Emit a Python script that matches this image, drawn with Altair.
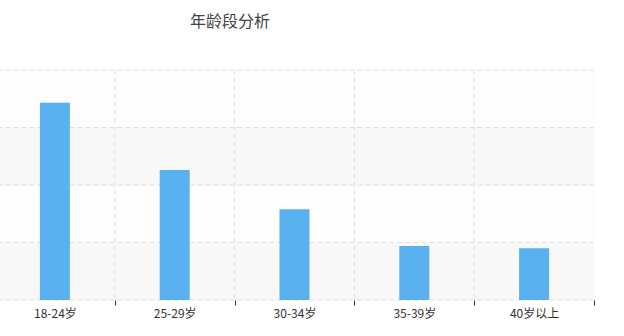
import altair as alt
import pandas as pd

# Age groups and their share (%)
categories = ["18-24岁", "25-29岁", "30-34岁", "35-39岁", "40岁以上"]
shares = [34.3, 22.6, 15.8, 9.4, 9.0]
y_ticks = [0, 10, 20, 30, 40]
band_fills = ["#f8f8f8", "#fdfdfd", "#f8f8f8", "#fdfdfd"]

FONT = "Noto Sans CJK SC"
W, H = 594, 230

bars_df = pd.DataFrame({"age": categories, "share": shares})
bands_df = pd.DataFrame({"lo": y_ticks[:-1], "hi": y_ticks[1:], "fill": band_fills})
hgrid_df = pd.DataFrame({"v": y_ticks})
vgrid_df = pd.DataFrame({"age": categories[1:]})

x_scale = alt.Scale(domain=categories, range=[-5, W], paddingInner=0, paddingOuter=0)
y_scale = alt.Scale(domain=[0, 40], nice=False, zero=True)

x_axis = alt.Axis(
    title=None,
    domain=False,
    grid=False,
    tickBand="extent",
    tickSize=5,
    tickColor="#333333",
    tickWidth=1,
    labelAngle=0,
    labelFont=FONT,
    labelFontSize=12,
    labelColor="#333333",
    labelPadding=3,
)

# alternating split areas
bands = alt.Chart(bands_df).mark_rect().encode(
    y=alt.Y("lo:Q", scale=y_scale, axis=None),
    y2="hi:Q",
    color=alt.Color("fill:N", scale=None, legend=None),
)

# dashed horizontal split lines
hgrid = alt.Chart(hgrid_df).mark_rule(color="#e0e0e0", strokeDash=[5, 3], strokeWidth=1).encode(
    y=alt.Y("v:Q", scale=y_scale, axis=None)
)

# dashed vertical split lines at category boundaries
vgrid = alt.Chart(vgrid_df).mark_rule(color="#e0e0e0", strokeDash=[5, 3], strokeWidth=1).encode(
    x=alt.X("age:N", scale=x_scale, sort=categories, bandPosition=0, axis=x_axis)
)

bars = alt.Chart(bars_df).mark_bar(color="#5ab1ef", size=30).encode(
    x=alt.X("age:N", scale=x_scale, sort=categories, axis=x_axis),
    y=alt.Y("share:Q", scale=y_scale, axis=None),
)

chart = (
    alt.layer(bands, hgrid, vgrid, bars)
    .properties(
        width=W,
        height=H,
        autosize=alt.AutoSizeParams(type="none"),
        padding={"left": 0, "top": 70, "right": 30, "bottom": 36},
        background="white",
        title=alt.TitleParams(
            text="年龄段分析",
            anchor="start",
            frame="group",
            dx=190,
            offset=40,
            font=FONT,
            fontSize=16,
            fontWeight="normal",
            color="#444444",
        ),
    )
    .configure_view(stroke=None)
)

chart.save("out.html", embed_options={"renderer": "svg", "actions": False})
